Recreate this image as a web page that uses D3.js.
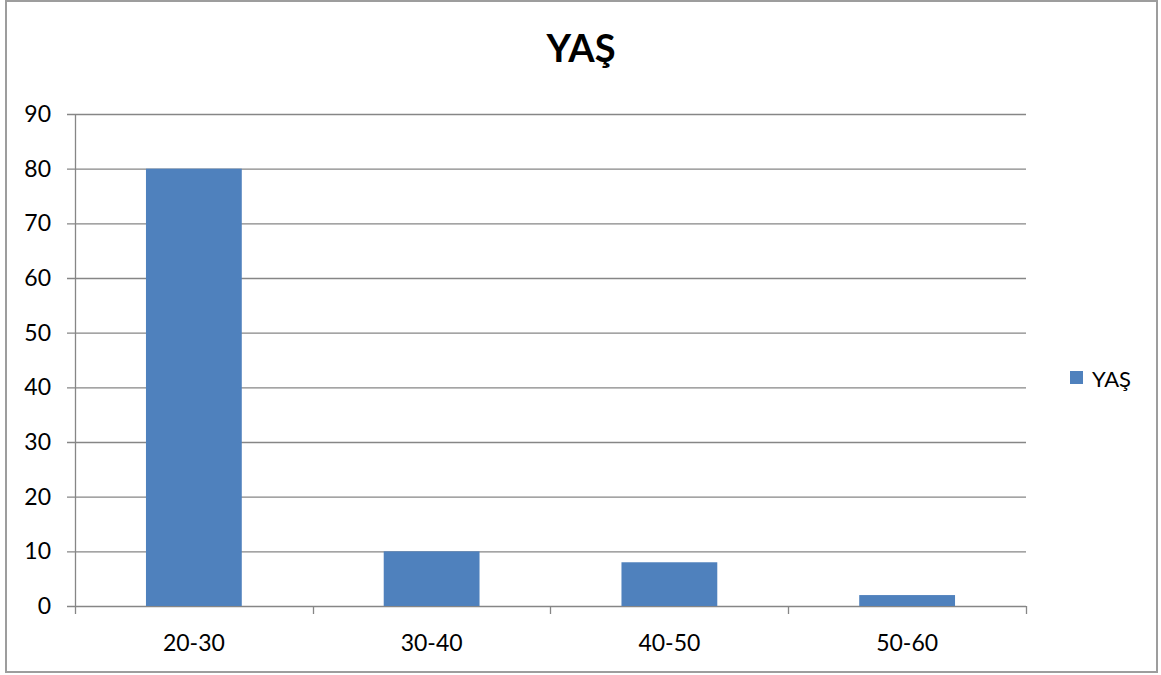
<!DOCTYPE html>
<html>
<head>
<meta charset="utf-8">
<script src="https://cdn.jsdelivr.net/npm/d3@7"></script>
<style>
  html, body { margin: 0; padding: 0; background: #fff; }
  svg { display: block; font-family: Lato, "Open Sans", sans-serif; }
</style>
</head>
<body>
<svg id="chart" width="1161" height="675"></svg>
<script>
// Age groups and counts
const categories = ["20-30", "30-40", "40-50", "50-60"];
const values = [80, 10, 8, 2];
const yTicks = [0, 10, 20, 30, 40, 50, 60, 70, 80, 90];
const seriesName = "YAŞ";
const titleText = "YAŞ";

const svg = d3.select("#chart");
const gridColor = "#868686";
const barColor = "#4F81BD";

const plot = { left: 75, right: 1026, top: 114, bottom: 606 };

const x = d3.scaleBand()
  .domain(categories)
  .range([plot.left, plot.right])
  .paddingInner(0.597)
  .paddingOuter(0.597 / 2);

const y = d3.scaleLinear()
  .domain([0, 90])
  .range([plot.bottom, plot.top]);

// Outer frame
svg.append("rect")
  .attr("x", 6).attr("y", 1)
  .attr("width", 1151).attr("height", 671)
  .attr("fill", "#fff")
  .attr("stroke", "#9d9d9d")
  .attr("stroke-width", 2);

// Title
svg.append("text")
  .attr("x", 581).attr("y", 62)
  .attr("text-anchor", "middle")
  .attr("font-size", 38)
  .attr("font-weight", "bold")
  .attr("fill", "#000")
  .text(titleText);

// Horizontal gridlines with left tick marks
const yAxis = d3.axisLeft(y)
  .tickValues(yTicks)
  .tickSize(8)
  .tickFormat(d3.format("d"));

const gy = svg.append("g")
  .attr("transform", `translate(${plot.left},0)`)
  .call(yAxis);
gy.select(".domain").attr("stroke", gridColor).attr("stroke-width", 1.3)
  .attr("d", `M0.5,${y(90) + 0.5}V${y(0) + 0.5}`);
gy.selectAll(".tick line")
  .attr("stroke", gridColor).attr("stroke-width", 1.3)
  .attr("x1", -8).attr("x2", plot.right - plot.left);
gy.selectAll(".tick text")
  .attr("x", -24)
  .attr("font-size", 23)
  .attr("font-family", "Lato, 'Open Sans', sans-serif")
  .attr("fill", "#000");

// Category axis with tick marks between groups
const bounds = categories.map(c => x(c) - x.step() * x.paddingInner() / 2);
bounds.push(plot.right);
svg.append("g").selectAll("line")
  .data(bounds)
  .join("line")
  .attr("x1", d => Math.round(d) + 0.5).attr("x2", d => Math.round(d) + 0.5)
  .attr("y1", y(0)).attr("y2", y(0) + 8)
  .attr("stroke", gridColor).attr("stroke-width", 1.3);

svg.append("g").selectAll("text")
  .data(categories)
  .join("text")
  .attr("x", d => x(d) + x.bandwidth() / 2)
  .attr("y", 651)
  .attr("text-anchor", "middle")
  .attr("font-size", 23)
  .attr("fill", "#000")
  .text(d => d);

// Bars
svg.append("g").selectAll("rect")
  .data(categories.map((c, i) => ({ c, v: values[i] })))
  .join("rect")
  .attr("x", d => x(d.c))
  .attr("width", x.bandwidth())
  .attr("y", d => y(d.v))
  .attr("height", d => y(0) - y(d.v))
  .attr("fill", barColor);

// Legend
const legend = svg.append("g").attr("transform", "translate(1070,371)");
legend.append("rect")
  .attr("width", 13).attr("height", 13)
  .attr("fill", barColor);
legend.append("text")
  .attr("x", 22).attr("y", 16)
  .attr("font-size", 22)
  .attr("fill", "#000")
  .text(seriesName);
</script>
</body>
</html>
